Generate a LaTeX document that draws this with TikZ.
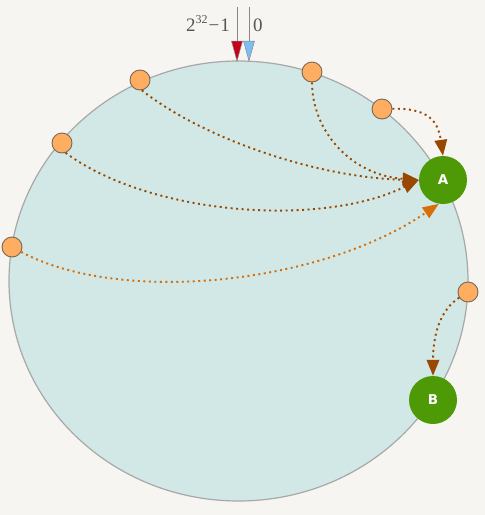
\documentclass[tikz,border=0pt]{standalone}
\usepackage{fontspec}
\newfontfamily\lblfont{DejaVu Sans}
\newfontfamily\topfont{Liberation Serif}
\usetikzlibrary{arrows.meta}
\definecolor{bg}{RGB}{247,245,241}
\definecolor{ring}{RGB}{209,232,230}
\definecolor{ringline}{RGB}{168,168,168}
\definecolor{peerfill}{RGB}{255,173,96}
\definecolor{peerdraw}{RGB}{120,104,88}
\definecolor{srv}{RGB}{78,154,6}
\definecolor{brn}{RGB}{152,72,0}
\definecolor{orn}{RGB}{214,110,10}
\definecolor{mark}{RGB}{136,136,136}
\definecolor{txt}{RGB}{85,85,85}
\definecolor{redtip}{RGB}{196,0,26}
\definecolor{bluetip}{RGB}{125,190,240}
\begin{document}
\begin{tikzpicture}[x=1pt,y=-1pt,
  peer/.style={circle,minimum size=20pt,inner sep=0pt,fill=peerfill,draw=peerdraw,line width=0.9pt},
  server/.style={circle,minimum size=48pt,inner sep=0pt,fill=srv,text=white,font=\lblfont\bfseries\fontsize{13.5}{13.5}\selectfont},
  link/.style={line width=1.9pt,dash pattern=on 2pt off 3.5pt,-{Triangle[length=16pt,width=12.5pt]}},
  brlink/.style={link,draw=brn},
  orlink/.style={link,draw=orn},
  marker/.style={draw=mark,line width=0.9pt},
  lbl/.style={text=txt,font=\topfont\fontsize{19}{19}\selectfont,inner sep=0pt}]
\fill[bg] (0,0) rectangle (485,515);
\useasboundingbox (0,0) rectangle (485,515);
% ring
\draw[draw=ringline,fill=ring,line width=1.2pt] (238.5,281) ellipse [x radius=229.5pt, y radius=220pt];
% top markers
\coordinate (t1) at (237,7);
\coordinate (b1) at (237,41);
\coordinate (t2) at (249,7);
\coordinate (b2) at (249,41);
\draw[marker] (t1) -- (b1);
\draw[marker] (t2) -- (b2);
\filldraw[fill=redtip,draw=mark,line width=0.5pt] (231.5,41) -- (242.5,41) -- (237,61) -- cycle;
\filldraw[fill=bluetip,draw=mark,line width=0.5pt] (243.5,41) -- (254.5,41) -- (249,61) -- cycle;
\node[lbl,anchor=base east] (lmax) at (230,31.7) {2\raisebox{0.45em}{\fontsize{12}{12}\selectfont 32}\kern1pt−\kern1pt1};
\node[lbl,anchor=base west] (lzero) at (253,31.7) {0};
% nodes
\node[server] (A) at (443,180) {A};
\node[server] (B) at (433,400) {B};
\node[peer] (n1) at (140,80) {};
\node[peer] (n2) at (312,72) {};
\node[peer] (n3) at (382,109) {};
\node[peer] (n4) at (62,143) {};
\node[peer] (n5) at (12,247) {};
\node[peer] (n6) at (468,292) {};
% links
\draw[brlink] (n1.-80) .. controls (205,140) and (320,178) .. (A.west);
\draw[brlink] (n4.-70) .. controls (150,215) and (320,228) .. (A.west);
\draw[brlink] (n2) .. controls (312,130) and (350,175) .. (A.west);
\draw[orlink] (n5) .. controls (120,305) and (320,285) .. (A.-100);
\draw[brlink] (n3) .. controls (427,108) and (438,120) .. (A.north);
\draw[brlink] (n6) .. controls (440,310) and (433,335) .. (B.north);
\end{tikzpicture}
\end{document}
